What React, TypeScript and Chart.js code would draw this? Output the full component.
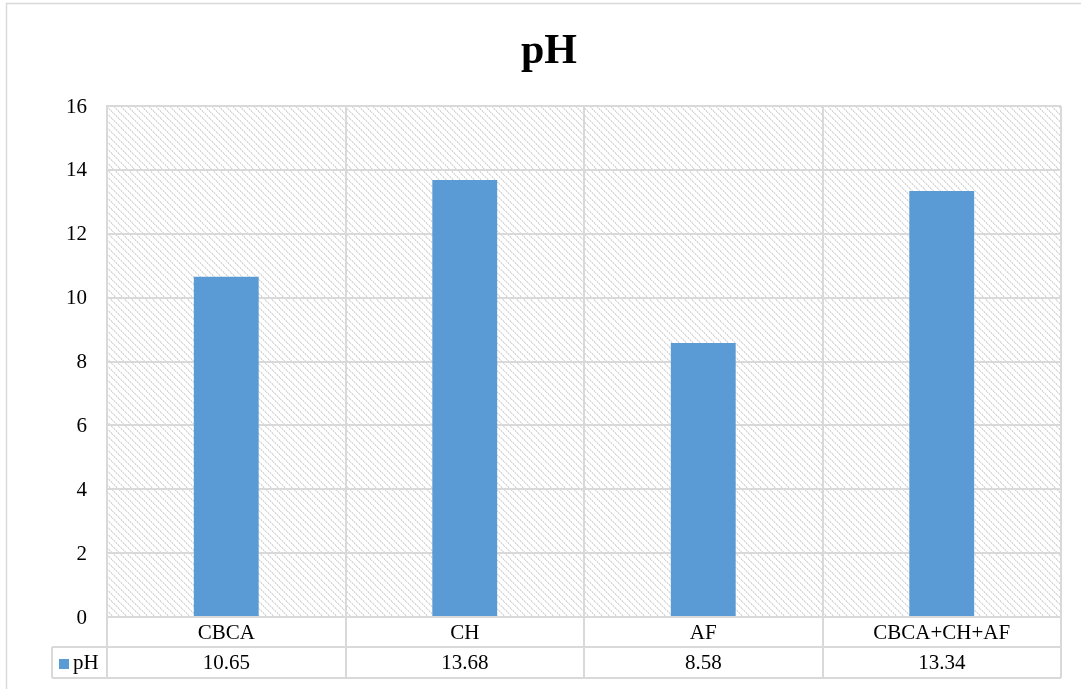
import React, { useEffect, useRef } from "react";
import { Chart, registerables } from "chart.js";

Chart.register(...registerables);

const categories: string[] = ["CBCA", "CH", "AF", "CBCA+CH+AF"];
const seriesName = "pH";
const phValues: number[] = [10.65, 13.68, 8.58, 13.34];
const valueLabels: string[] = ["10.65", "13.68", "8.58", "13.34"];
const yTicks: number[] = [0, 2, 4, 6, 8, 10, 12, 14, 16];
const titleText = "pH";

const FONT = "'Liberation Serif', 'Times New Roman', serif";
const GRID = "#d9d9d9";
const BAR = "#5b9bd5";

function makePattern(ctx: CanvasRenderingContext2D): CanvasPattern | string {
  const size = 7;
  const c = document.createElement("canvas");
  c.width = size;
  c.height = size;
  const g = c.getContext("2d");
  if (!g) return "#f5f5f5";
  g.fillStyle = "#ffffff";
  g.fillRect(0, 0, size, size);
  for (let i = 0; i < size; i++) {
    g.fillStyle = i % 2 === 0 ? "#d6d6d6" : "#ececec";
    g.fillRect(i, i, 1, 1);
    g.fillStyle = i % 2 === 0 ? "#f2f2f2" : "#dedede";
    g.fillRect((i + 1) % size, i, 1, 1);
  }
  return ctx.createPattern(c, "repeat") || "#f5f5f5";
}

const tablePlugin = {
  id: "tablePlugin",
  beforeDraw(chart: any) {
    const ctx: CanvasRenderingContext2D = chart.ctx;
    const a = chart.chartArea;
    ctx.save();
    ctx.fillStyle = "#ffffff";
    ctx.fillRect(0, 0, chart.width, chart.height);
    ctx.strokeStyle = GRID;
    ctx.lineWidth = 1.5;
    ctx.beginPath();
    ctx.moveTo(6.5, chart.height);
    ctx.lineTo(6.5, 3.5);
    ctx.lineTo(chart.width, 3.5);
    ctx.stroke();
    ctx.fillStyle = makePattern(ctx);
    ctx.fillRect(a.left, a.top, a.right - a.left, a.bottom - a.top);
    ctx.fillStyle = "#000";
    ctx.font = `bold 42px ${FONT}`;
    ctx.textAlign = "center";
    ctx.textBaseline = "alphabetic";
    ctx.fillText(titleText, 549, 63);
    ctx.restore();
  },
  afterDraw(chart: any) {
    const ctx: CanvasRenderingContext2D = chart.ctx;
    const a = chart.chartArea;
    const n = categories.length;
    const w = (a.right - a.left) / n;
    const row1Top = a.bottom;
    const row2Top = a.bottom + 30;
    const row2Bottom = a.bottom + 61;
    const legendLeft = 52;
    ctx.save();
    ctx.strokeStyle = GRID;
    ctx.lineWidth = 2;
    ctx.beginPath();
    for (let i = 0; i <= n; i++) {
      const x = Math.round(a.left + i * w);
      ctx.moveTo(x, row1Top);
      ctx.lineTo(x, row2Bottom);
    }
    ctx.moveTo(legendLeft, row2Top);
    ctx.lineTo(a.right, row2Top);
    ctx.moveTo(legendLeft, row2Bottom);
    ctx.lineTo(a.right, row2Bottom);
    ctx.moveTo(legendLeft, row2Top);
    ctx.lineTo(legendLeft, row2Bottom);
    ctx.stroke();

    ctx.fillStyle = "#000";
    ctx.font = `21px ${FONT}`;
    ctx.textAlign = "center";
    ctx.textBaseline = "middle";
    const xs = chart.scales.x;
    for (let i = 0; i < n; i++) {
      const cx = xs.getPixelForValue(i);
      ctx.fillText(categories[i], cx, (row1Top + row2Top) / 2 + 1);
      ctx.fillText(valueLabels[i], cx, (row2Top + row2Bottom) / 2 + 1);
    }
    // y tick labels
    const ys = chart.scales.y;
    ctx.textAlign = "right";
    for (const t of yTicks) {
      ctx.fillText(String(t), 87, ys.getPixelForValue(t) + 1);
    }
    // legend key
    ctx.fillStyle = BAR;
    ctx.fillRect(59, row2Top + 12, 10, 10);
    ctx.fillStyle = "#000";
    ctx.textAlign = "left";
    ctx.fillText(seriesName, 73, (row2Top + row2Bottom) / 2 + 1);
    ctx.restore();
  },
};

export default function App() {
  const ref = useRef<HTMLCanvasElement | null>(null);
  useEffect(() => {
    if (!ref.current) return;
    const chart = new Chart(ref.current, {
      type: "bar",
      data: {
        labels: categories,
        datasets: [
          {
            label: seriesName,
            data: phValues,
            backgroundColor: BAR,
            borderWidth: 0,
            categoryPercentage: 1,
            barPercentage: 0.272,
          },
        ],
      },
      options: {
        responsive: false,
        animation: false,
        devicePixelRatio: 1,
        layout: { padding: { left: 0, top: 106, right: 20, bottom: 72 } },
        plugins: {
          legend: { display: false },
          title: { display: false },
          tooltip: { enabled: false },
        },
        scales: {
          x: {
            offset: true,
            grid: { color: GRID, lineWidth: 2, drawTicks: false, offset: true },
            border: { color: GRID, width: 2 },
            ticks: { display: false },
          },
          y: {
            min: 0,
            max: 16,
            ticks: { stepSize: 2, display: false },
            grid: { color: GRID, lineWidth: 2, drawTicks: false },
            border: { color: GRID, width: 2 },
            afterFit: (scale: any) => {
              scale.width = 107;
            },
          },
        },
      },
      plugins: [tablePlugin],
    });
    return () => chart.destroy();
  }, []);
  return (
    <div style={{ position: "fixed", left: 0, top: 0, width: 1081, height: 689, background: "#fff" }}>
      <canvas ref={ref} width={1081} height={689} style={{ display: "block" }} />
    </div>
  );
}
